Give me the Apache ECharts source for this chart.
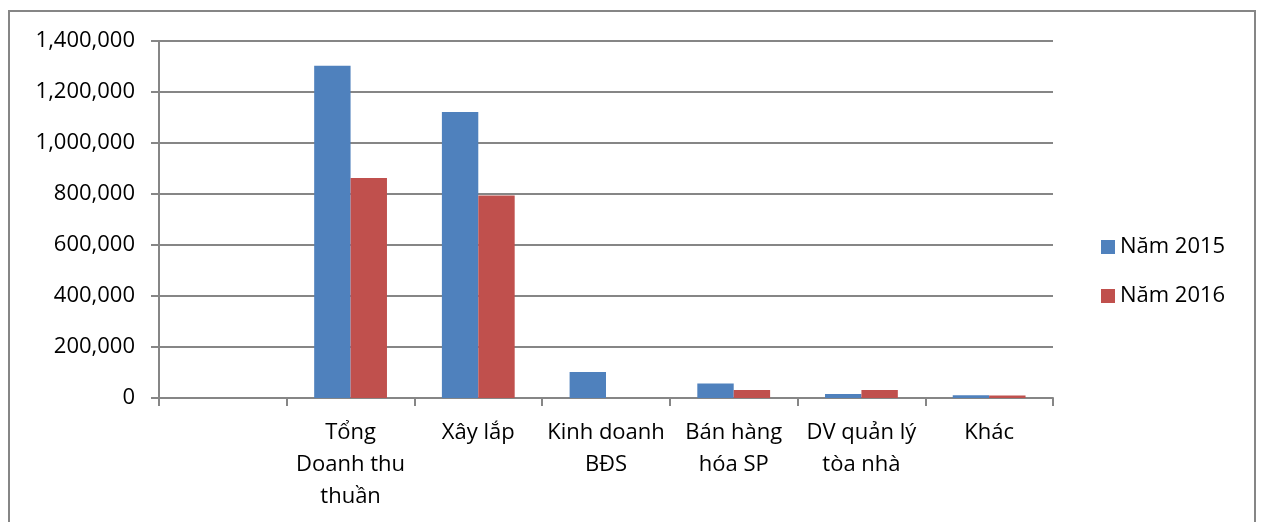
<!DOCTYPE html>
<html>
<head>
<meta charset="utf-8">
<script src="https://cdn.jsdelivr.net/npm/echarts@6/dist/echarts.min.js"></script>
<style>
  html, body { margin: 0; padding: 0; background: #fff; }
  #main { width: 1261px; height: 522px; }
</style>
</head>
<body>
<div id="main"></div>
<script>
// categories (first one is empty in the original chart)
const categories = ['', 'Tổng\nDoanh thu\nthuần', 'Xây lắp', 'Kinh doanh\nBĐS', 'Bán hàng\nhóa SP', 'DV quản lý\ntòa nhà', 'Khác'];
const seriesNames = ['Năm 2015', 'Năm 2016'];
const values2015 = [null, 1303000, 1122000, 102000, 57000, 16000, 11000];
const values2016 = [null, 863000, 794000, 0, 31000, 31000, 10000];
const yTicks = { min: 0, max: 1400000, interval: 200000 };

const chartDom = document.getElementById('main');
const myChart = echarts.init(chartDom);
const fontFamily = "'Open Sans', 'Liberation Sans', sans-serif";
const gray = '#868686';

const option = {
    animation: false,
    textStyle: { fontFamily: fontFamily },
    color: ['#4F81BD', '#C0504D'],
    graphic: [{
        type: 'rect',
        shape: { x: 9, y: 11, width: 1246, height: 530 },
        style: { fill: 'none', stroke: gray, lineWidth: 2 },
        silent: true
    }],
    legend: {
        orient: 'vertical',
        left: 1096,
        top: 231,
        itemWidth: 14,
        itemHeight: 14,
        itemGap: 27,
        icon: 'rect',
        textStyle: { fontSize: 22, color: '#000', fontFamily: fontFamily },
        data: seriesNames
    },
    grid: {
        left: 159,
        right: 208,
        top: 41,
        bottom: 124,
        containLabel: false
    },
    xAxis: {
        type: 'category',
        data: categories,
        axisLine: { lineStyle: { color: gray, width: 2 } },
        axisTick: { show: true, length: 8, lineStyle: { color: gray, width: 2 } },
        axisLabel: {
            interval: 0,
            fontSize: 22,
            color: '#000',
            lineHeight: 32,
            margin: 19,
            fontFamily: fontFamily
        }
    },
    yAxis: {
        type: 'value',
        min: yTicks.min,
        max: yTicks.max,
        interval: yTicks.interval,
        axisLine: { show: true, lineStyle: { color: gray, width: 2 } },
        axisTick: { show: true, length: 8, lineStyle: { color: gray, width: 2 } },
        splitLine: { lineStyle: { color: gray, width: 2 } },
        axisLabel: {
            fontSize: 22,
            color: '#000',
            margin: 24,
            fontFamily: fontFamily,
            formatter: function (v) { return v.toLocaleString('en-US'); }
        }
    },
    series: [
        {
            name: seriesNames[0],
            type: 'bar',
            data: values2015,
            barGap: 0,
            barCategoryGap: '43%'
        },
        {
            name: seriesNames[1],
            type: 'bar',
            data: values2016,
            barGap: 0,
            barCategoryGap: '43%'
        }
    ]
};

myChart.setOption(option);
</script>
</body>
</html>
